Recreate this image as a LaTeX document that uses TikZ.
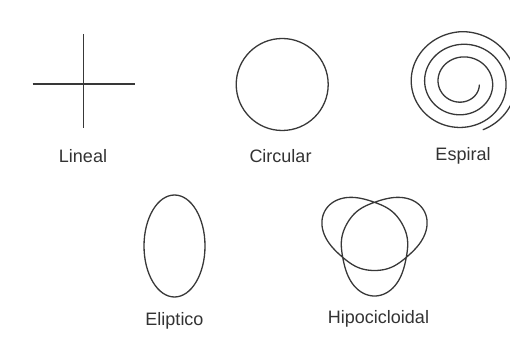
\documentclass[tikz,border=0pt]{standalone}
\usepackage{fontspec}
\setmainfont{Liberation Sans}
\begin{document}
\begin{tikzpicture}[x=1pt, y=1pt,
    curva/.style={draw=black!78, line width=1.3pt, line join=round},
    etiqueta/.style={anchor=base, text=black!80, inner sep=0pt, font=\fontsize{18}{20}\selectfont}]
  \useasboundingbox (0,0) rectangle (510,352);
  % Lineal (cruz)
  \draw[curva] (32.7,268) -- (135,268);
  \draw[curva] (83.3,318) -- (83.3,223.7);
  \node[etiqueta] (lineal) at (83,189.7) {Lineal};
  % Circular
  \draw[curva] (282.2,267.5) circle[radius=46];
  \node[etiqueta] (circular) at (280.5,189) {Circular};
  % Espiral (centro 462, 269.3), de dentro hacia fuera en sentido horario
  \draw[curva, line cap=round] plot[domain=8:1147, samples=340, smooth]
    ({462+1.06*(16.2+0.0352*min(\x,990))*cos(\x)},
     {269.3-(16.2+0.0352*min(\x,990))*sin(\x)});
  \node[etiqueta] (espiral) at (463,191.3) {Espiral};
  % Eliptico
  \draw[curva] (174.5,106) ellipse[x radius=30.5, y radius=51];
  \node[etiqueta] (eliptico) at (174.5,26) {Eliptico};
  % Hipocicloidal (tres lazos, centro 374.5, 113)
  \draw[curva] plot[domain=0:718, samples=360, smooth cycle]
    ({374.5+(40.475+11.75*cos(1.5*\x)+3.775*cos(3*\x)+cos(4.5*\x))*cos(\x-90)},
     {113+(40.475+11.75*cos(1.5*\x)+3.775*cos(3*\x)+cos(4.5*\x))*sin(\x-90)});
  \node[etiqueta] (hipocicloidal) at (378.5,28.7) {Hipocicloidal};
\end{tikzpicture}
\end{document}
